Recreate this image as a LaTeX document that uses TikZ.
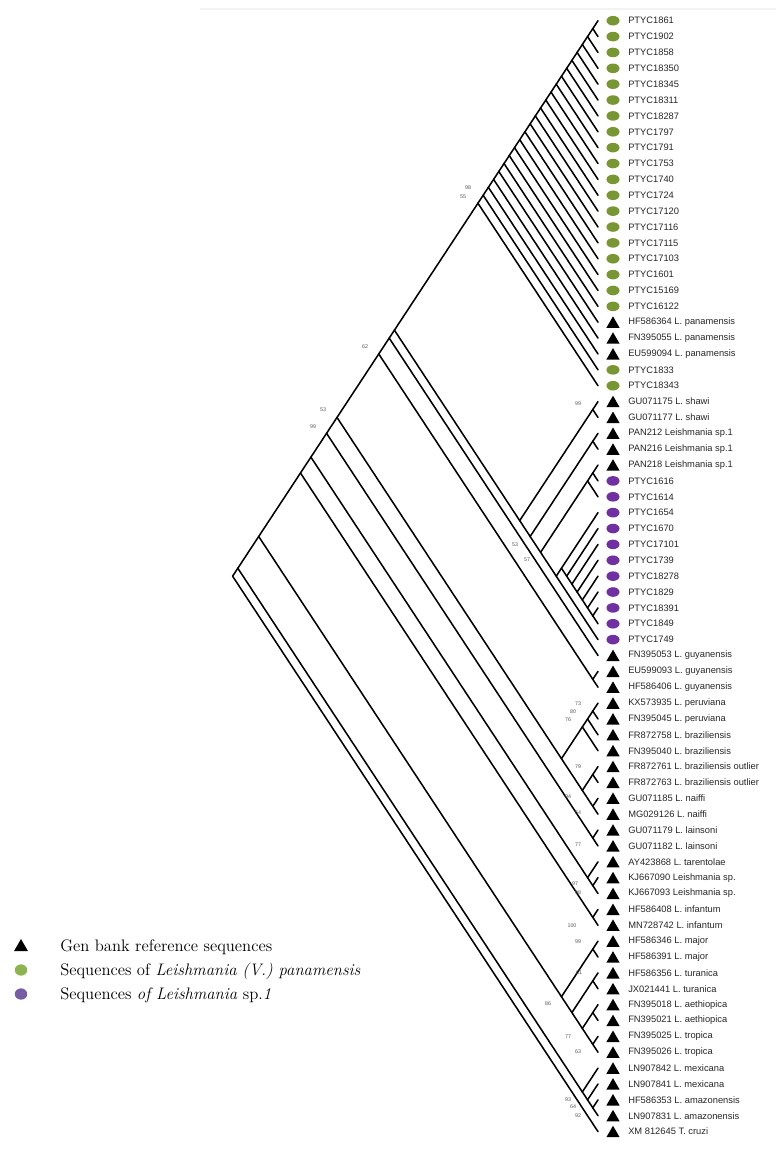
\documentclass[tikz,border=0pt]{standalone}
\usepackage{fontspec}
\newfontfamily\labfont{Liberation Sans}
\usetikzlibrary{shapes.geometric}
\definecolor{gdot}{RGB}{120,150,52}
\definecolor{pdot}{RGB}{112,48,160}
\definecolor{glg}{RGB}{142,180,82}
\definecolor{plg}{RGB}{118,92,162}
\newcommand\defn[2]{\coordinate (n#1b#2) at ({598-5.22*((#2)-(#1))},{20.7+7.935*((#1)+(#2))});}
\begin{document}
\begin{tikzpicture}[x=0.75pt,y=-0.75pt,
  br/.style={line width=1.15pt, black, line cap=round},
  symt/.style={regular polygon, regular polygon sides=3, fill=black, draw=none, inner sep=0pt, minimum size=11.5pt},
  symg/.style={ellipse, fill=gdot, draw=none, inner sep=0pt, minimum width=9.8pt, minimum height=7.2pt},
  symp/.style={ellipse, fill=pdot, draw=none, inner sep=0pt, minimum width=9.8pt, minimum height=7.2pt},
  lab/.style={anchor=west, inner sep=0pt, font=\labfont\fontsize{7}{8}\selectfont, text=black!85},
  bs/.style={inner sep=0pt, font=\labfont\fontsize{4}{4}\selectfont, text=black!65},
  leg/.style={anchor=base west, inner sep=0pt, font=\fontsize{12.5}{14}\selectfont}]
\useasboundingbox (0,0) rectangle (776,1150);
% faint top rule
\coordinate (ta) at (200,9);
\coordinate (tb) at (776,9);
\draw[black!5, line width=0.8pt] (ta) -- (tb);
% leaf tips
\foreach \i in {0,...,70} {\defn{\i}{\i}}
% internal nodes
\foreach \pa/\pb in {0/70,0/69,66/69,67/69,68/69,0/65,58/65,58/59,60/65,60/61,62/65,62/63,64/65,
  0/57,56/57,0/55,53/55,54/55,0/52,51/52,0/50,43/50,43/46,43/45,43/44,47/50,47/48,49/50,
  0/42,41/42,0/40,0/39,24/39,24/25,26/39,26/27,28/39,28/30,28/29,31/39,31/38,32/38,33/38,
  34/38,35/38,36/38,37/38} {\defn{\pa}{\pb}}
\foreach \k in {1,...,23} {\defn{0}{\k}}
% edges
\foreach \p/\c in {0b70/0b69, 0b70/70b70,
  0b69/0b65, 0b69/66b69,
  66b69/66b66, 66b69/67b69, 67b69/67b67, 67b69/68b69, 68b69/68b68, 68b69/69b69,
  0b65/0b57, 0b65/58b65,
  58b65/58b59, 58b65/60b65, 58b59/58b58, 58b59/59b59,
  60b65/60b61, 60b65/62b65, 60b61/60b60, 60b61/61b61,
  62b65/62b63, 62b65/64b65, 62b63/62b62, 62b63/63b63, 64b65/64b64, 64b65/65b65,
  0b57/0b55, 0b57/56b57, 56b57/56b56, 56b57/57b57,
  0b55/0b52, 0b55/53b55, 53b55/53b53, 53b55/54b55, 54b55/54b54, 54b55/55b55,
  0b52/0b50, 0b52/51b52, 51b52/51b51, 51b52/52b52,
  0b50/0b42, 0b50/43b50,
  43b50/43b46, 43b50/47b50,
  43b46/43b45, 43b46/46b46, 43b45/43b44, 43b45/45b45, 43b44/43b43, 43b44/44b44,
  47b50/47b48, 47b50/49b50, 47b48/47b47, 47b48/48b48, 49b50/49b49, 49b50/50b50,
  0b42/0b40, 0b42/41b42, 41b42/41b41, 41b42/42b42,
  0b40/0b39, 0b40/40b40,
  0b39/0b23, 0b39/24b39,
  24b39/24b25, 24b39/26b39, 24b25/24b24, 24b25/25b25,
  26b39/26b27, 26b39/28b39, 26b27/26b26, 26b27/27b27,
  28b39/28b30, 28b39/31b39, 28b30/28b29, 28b30/30b30, 28b29/28b28, 28b29/29b29,
  31b39/31b38, 31b39/39b39,
  31b38/31b31, 31b38/32b38, 32b38/32b32, 32b38/33b38, 33b38/33b33, 33b38/34b38,
  34b38/34b34, 34b38/35b38, 35b38/35b35, 35b38/36b38, 36b38/36b36, 36b38/37b38,
  37b38/37b37, 37b38/38b38} {\draw[br] (n\p) -- (n\c);}
\foreach \k [evaluate=\k as \j using int(\k-1)] in {1,...,23} {
  \draw[br] (n0b\k) -- (n0b\j);
  \draw[br] (n0b\k) -- (n\k b\k);
}
% symbols
\foreach \i in {0,...,18,22,23} {\node[symg] (s\i) at (613,{20.7+15.87*\i}) {};}
\foreach \i in {29,...,39} {\node[symp] (s\i) at (613,{20.7+15.87*\i}) {};}
\foreach \i in {19,20,21,24,25,26,27,28,40,41,42,43,44,45,46,47,48,49,50,51,52,53,54,55,56,57,58,59,60,61,62,63,64,65,66,67,68,69,70}
  {\node[symt] (s\i) at (613,{22.5+15.87*\i}) {};}
% labels
\foreach \i/\txt in {0/PTYC1861,1/PTYC1902,2/PTYC1858,3/PTYC18350,4/PTYC18345,5/PTYC18311,
  6/PTYC18287,7/PTYC1797,8/PTYC1791,9/PTYC1753,10/PTYC1740,11/PTYC1724,12/PTYC17120,
  13/PTYC17116,14/PTYC17115,15/PTYC17103,16/PTYC1601,17/PTYC15169,18/PTYC16122,
  19/HF586364 L. panamensis,20/FN395055 L. panamensis,21/EU599094 L. panamensis,
  22/PTYC1833,23/PTYC18343,24/GU071175 L. shawi,25/GU071177 L. shawi,
  26/PAN212 Leishmania sp.1,27/PAN216 Leishmania sp.1,28/PAN218 Leishmania sp.1,
  29/PTYC1616,30/PTYC1614,31/PTYC1654,32/PTYC1670,33/PTYC17101,34/PTYC1739,35/PTYC18278,
  36/PTYC1829,37/PTYC18391,38/PTYC1849,39/PTYC1749,
  40/FN395053 L. guyanensis,41/EU599093 L. guyanensis,42/HF586406 L. guyanensis,
  43/KX573935 L. peruviana,44/FN395045 L. peruviana,45/FR872758 L. braziliensis,
  46/FN395040 L. braziliensis,47/FR872761 L. braziliensis outlier,48/FR872763 L. braziliensis outlier,
  49/GU071185 L. naiffi,50/MG029126 L. naiffi,51/GU071179 L. lainsoni,52/GU071182 L. lainsoni,
  53/AY423868 L. tarentolae,54/KJ667090 Leishmania sp.,55/KJ667093 Leishmania sp.,
  56/HF586408 L. infantum,57/MN728742 L. infantum,58/HF586346 L. major,59/HF586391 L. major,
  60/HF586356 L. turanica,61/JX021441 L. turanica,62/FN395018 L. aethiopica,63/FN395021 L. aethiopica,
  64/FN395025 L. tropica,65/FN395026 L. tropica,66/LN907842 L. mexicana,67/LN907841 L. mexicana,
  68/HF586353 L. amazonensis,69/LN907831 L. amazonensis,70/XM 812645 T. cruzi}
  {\node[lab] (t\i) at (628,{20.7+15.87*\i}) {\txt};}
% bootstrap values
\foreach \x/\y/\v [count=\n] in {468/188/98, 463/197/55, 365/347/62, 323/410/53, 313/427/99,
  578/404/99, 515/545/53, 527/560/57, 578/704/73, 573/712/80, 568/720/76, 578/767/79,
  568/797/94, 578/813/54, 578/845/77, 575/884/97, 578/893/98, 572/926/100, 578/942/99,
  579/973/61, 548/1004/86, 568/1037/77, 578/1052/63, 568/1100/93, 573/1107/64, 578/1116/92}
  {\node[bs] (b\n) at (\x,\y) {\v};}
% legend
\node[symt, minimum size=12pt] (lg1) at (21,947) {};
\node[ellipse, fill=glg, inner sep=0pt, minimum width=9.3pt, minimum height=8.5pt] (lg2) at (21,970) {};
\node[ellipse, fill=plg, inner sep=0pt, minimum width=9.3pt, minimum height=8.5pt] (lg3) at (21,994) {};
\node[leg] (lt1) at (60,951) {Gen bank reference sequences};
\node[leg] (lt2) at (60,975) {Sequences of \textit{Leishmania (V.) panamensis}};
\node[leg] (lt3) at (60,999) {Sequences \textit{of Leishmania} sp.\textit{1}};
\end{tikzpicture}
\end{document}
